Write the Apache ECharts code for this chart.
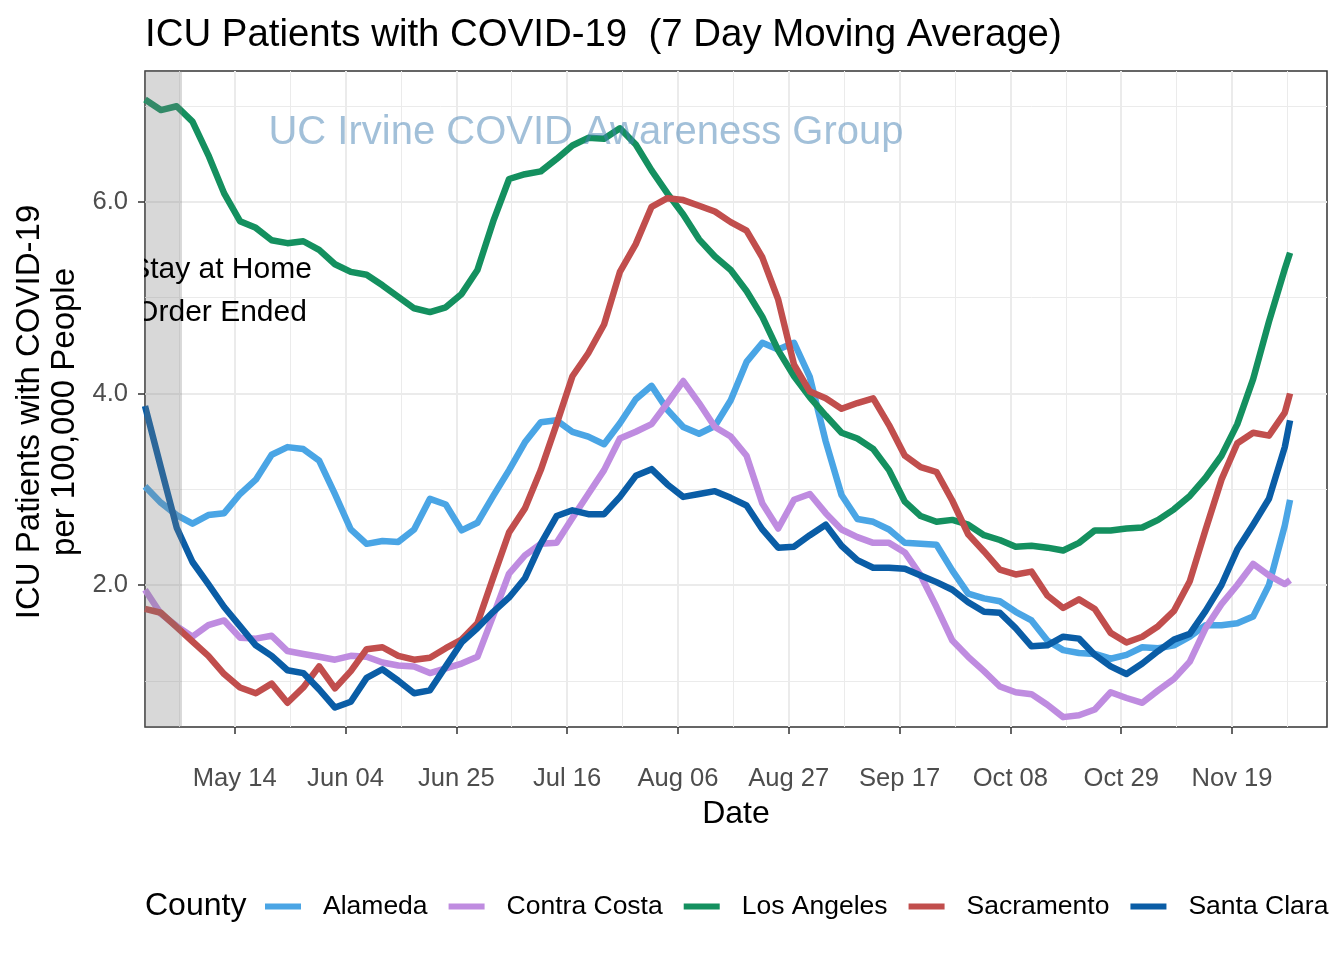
<!DOCTYPE html>
<html><head><meta charset="utf-8">
<script src="https://cdn.jsdelivr.net/npm/echarts@6/dist/echarts.min.js"></script>
<style>html,body{margin:0;padding:0;background:#fff}#chart{width:1344px;height:960px}</style>
</head><body><div id="chart"></div>
<script>
const FONT = '"Liberation Sans", Arial, Helvetica, sans-serif';

// x range of the panel and the date ticks
const axisStart = '2020-04-27';
const axisEnd = '2020-12-07';
const tickDates = ['2020-05-14','2020-06-04','2020-06-25','2020-07-16','2020-08-06','2020-08-27','2020-09-17','2020-10-08','2020-10-29','2020-11-19'];
const orderEndedRange = ['2020-04-27','2020-05-04'];
// observation dates: every 3 days from Apr 27, last one Nov 30
const firstObs = '2020-04-27';
const obsStepDays = 3;
const obsCount = 73;
const lastObs = '2020-11-30';

const countyNames = ['Alameda','Contra Costa','Los Angeles','Sacramento','Santa Clara'];
const countyColors = ['#4aa5e5','#bf8ce0','#14905f','#c14e4d','#0a5da6'];

const alameda = [3.03,2.86,2.73,2.64,2.73,2.75,2.95,3.10,3.36,3.44,
  3.42,3.30,2.95,2.58,2.43,2.46,2.45,2.58,2.90,2.84,
  2.57,2.65,2.93,3.20,3.49,3.70,3.72,3.60,3.55,3.47,
  3.69,3.94,4.08,3.83,3.65,3.58,3.66,3.93,4.33,4.53,
  4.46,4.53,4.17,3.50,2.94,2.69,2.66,2.58,2.44,2.43,
  2.42,2.15,1.91,1.86,1.83,1.72,1.63,1.42,1.32,1.29,
  1.28,1.23,1.27,1.35,1.34,1.37,1.46,1.58,1.58,1.60,
  1.67,2.00,2.62,2.89];
const contraCosta = [1.95,1.70,1.57,1.46,1.58,1.63,1.45,1.44,1.47,1.31,
  1.28,1.25,1.22,1.26,1.25,1.19,1.16,1.15,1.08,1.13,
  1.18,1.25,1.68,2.12,2.31,2.43,2.44,2.70,2.95,3.20,
  3.53,3.60,3.68,3.90,4.13,3.90,3.65,3.55,3.35,2.85,
  2.59,2.89,2.95,2.75,2.58,2.50,2.44,2.44,2.34,2.10,
  1.77,1.42,1.25,1.10,0.94,0.88,0.86,0.75,0.62,0.64,
  0.70,0.88,0.82,0.77,0.90,1.02,1.20,1.55,1.80,2.00,
  2.22,2.10,2.01,2.05];
const losAngeles = [7.07,6.96,7.00,6.84,6.49,6.09,5.80,5.73,5.60,5.57,
  5.59,5.50,5.35,5.27,5.24,5.13,5.01,4.89,4.85,4.90,
  5.04,5.29,5.80,6.24,6.29,6.32,6.45,6.59,6.67,6.66,
  6.77,6.60,6.33,6.09,5.87,5.61,5.43,5.29,5.07,4.80,
  4.45,4.18,3.96,3.77,3.59,3.53,3.42,3.20,2.87,2.72,
  2.66,2.68,2.63,2.52,2.47,2.40,2.41,2.39,2.36,2.44,
  2.57,2.57,2.59,2.60,2.68,2.79,2.93,3.12,3.35,3.68,
  4.15,4.75,5.30,5.47];
const sacramento = [1.75,1.71,1.56,1.41,1.26,1.07,0.93,0.87,0.97,0.77,
  0.93,1.15,0.92,1.10,1.33,1.35,1.26,1.22,1.24,1.34,
  1.43,1.60,2.08,2.55,2.80,3.20,3.68,4.18,4.42,4.72,
  5.27,5.56,5.95,6.04,6.02,5.96,5.90,5.79,5.70,5.42,
  4.98,4.30,4.02,3.95,3.84,3.90,3.95,3.67,3.35,3.23,
  3.18,2.88,2.53,2.35,2.16,2.11,2.14,1.89,1.76,1.85,
  1.75,1.50,1.40,1.46,1.57,1.73,2.04,2.58,3.10,3.48,
  3.59,3.56,3.80,4.00];
const santaClara = [3.87,3.23,2.60,2.24,2.01,1.77,1.57,1.37,1.26,1.11,
  1.08,0.91,0.72,0.78,1.03,1.12,1.00,0.87,0.90,1.15,
  1.40,1.55,1.72,1.87,2.07,2.43,2.72,2.78,2.74,2.74,
  2.92,3.14,3.21,3.05,2.92,2.95,2.98,2.91,2.83,2.58,
  2.39,2.40,2.52,2.63,2.41,2.26,2.18,2.18,2.17,2.10,
  2.03,1.95,1.82,1.72,1.71,1.55,1.36,1.37,1.46,1.44,
  1.27,1.15,1.07,1.18,1.31,1.43,1.49,1.73,2.00,2.37,
  2.63,2.90,3.44,3.72];
const countyValues = [alameda, contraCosta, losAngeles, sacramento, santaClara];

const yMin = 0.517, yMax = 7.368;
const yTickValues = [2, 4, 6];

// ---- helpers ----
const MONTHS = ['Jan','Feb','Mar','Apr','May','Jun','Jul','Aug','Sep','Oct','Nov','Dec'];
function parseISO(s){ const p = s.split('-').map(Number); return Date.UTC(p[0], p[1]-1, p[2]); }
function toISO(t){ return new Date(t).toISOString().slice(0,10); }
const DAY = 86400000;
const categories = [];
for (let t = parseISO(axisStart); t <= parseISO(axisEnd); t += DAY) categories.push(toISO(t));
const obsDates = [];
for (let i = 0; i < obsCount; i++) obsDates.push(toISO(parseISO(firstObs) + i * obsStepDays * DAY));
obsDates.push(lastObs);
const halfDays = [];
for (let i = 0; i < (categories.length - 1) * 2 + 1; i++) halfDays.push(String(i));
const tickSet = new Set(tickDates);
const firstTickIdx = categories.indexOf(tickDates[0]);
const tickSpacing = categories.indexOf(tickDates[1]) - firstTickIdx;
function fmtDate(s){ const d = new Date(parseISO(s)); return MONTHS[d.getUTCMonth()] + ' ' + String(d.getUTCDate()).padStart(2,'0'); }
function isMinor(i){ // half-day index lying midway between date ticks
  const h = i - (firstTickIdx * 2 - tickSpacing);
  return h % (tickSpacing * 2) === 0;
}

const series = countyNames.map((name, k) => ({
  name, type: 'line', xAxisIndex: 0, yAxisIndex: 0,
  data: obsDates.map((d, i) => [d, countyValues[k][i]]),
  showSymbol: false, symbol: 'none', smooth: false, z: 2,
  color: countyColors[k],
  lineStyle: { width: 6.5, color: countyColors[k], join: 'round', cap: 'butt' },
  emphasis: { disabled: true }
}));
series.push({
  name: 'order', type: 'line', data: [], xAxisIndex: 0, yAxisIndex: 0, z: 10,
  markArea: { silent: true, z: 10, itemStyle: { color: 'rgba(127,127,127,0.3)' },
    data: [[{ xAxis: orderEndedRange[0] }, { xAxis: orderEndedRange[1] }]] }
});

const chart = echarts.init(document.getElementById('chart'), null, { renderer: 'canvas' });
chart.setOption({
  animation: false,
  backgroundColor: '#ffffff',
  textStyle: { fontFamily: FONT },
  title: { text: 'ICU Patients with COVID-19  (7 Day Moving Average)', left: 140, top: 11,
    textStyle: { fontFamily: FONT, fontSize: 38.4, fontWeight: 'normal', color: '#000' } },
  grid: { left: 145, right: 17, top: 71, bottom: 233, show: true, borderColor: '#333333', borderWidth: 1.5, backgroundColor: 'transparent' },
  legend: {
    data: countyNames, left: 260, top: 888, icon: 'rect', itemWidth: 36, itemHeight: 6, itemGap: 21,
    selectedMode: false,
    textStyle: { fontFamily: FONT, fontSize: 26.5, color: '#000', padding: [0, 0, 0, 17] }
  },
  xAxis: [{
    type: 'category', data: categories, boundaryGap: false, position: 'bottom',
    name: 'Date', nameLocation: 'middle', nameGap: 71,
    nameTextStyle: { fontFamily: FONT, fontSize: 32, color: '#000' },
    axisLine: { show: false },
    axisTick: { show: true, interval: (i, v) => tickSet.has(v), length: 7, lineStyle: { color: '#333', width: 1.5 } },
    axisLabel: { show: true, interval: (i, v) => tickSet.has(v), formatter: v => fmtDate(v), margin: 39,
      fontFamily: FONT, fontSize: 25.6, color: '#4d4d4d' },
    splitLine: { show: true, interval: (i, v) => tickSet.has(v), lineStyle: { color: '#ebebeb', width: 2 } }
  }, {
    type: 'category', data: halfDays, boundaryGap: false, position: 'bottom', gridIndex: 0,
    axisLine: { show: false }, axisTick: { show: false }, axisLabel: { show: false },
    splitLine: { show: true, interval: (i) => isMinor(i), lineStyle: { color: '#ebebeb', width: 1 } }
  }],
  yAxis: {
    type: 'value', min: yMin, max: yMax, splitNumber: 3,
    axisLine: { show: false },
    axisTick: { show: true, customValues: yTickValues, length: 7, lineStyle: { color: '#333', width: 1.5 } },
    axisLabel: { customValues: yTickValues, formatter: v => Number(v).toFixed(1), margin: 17,
      fontFamily: FONT, fontSize: 25.6, color: '#4d4d4d' },
    splitLine: { show: true, lineStyle: { color: '#ebebeb', width: 2 } },
    minorTick: { show: false, splitNumber: 2 },
    minorSplitLine: { show: true, lineStyle: { color: '#ebebeb', width: 1 } }
  },
  series,
  graphic: [
    { type: 'text', x: 221, y: 270, z: 50, style: { text: 'Stay at Home', font: '30px ' + FONT, fill: '#000', align: 'center', verticalAlign: 'middle' } },
    { type: 'text', x: 221, y: 313, z: 50, style: { text: 'Order Ended', font: '30px ' + FONT, fill: '#000', align: 'center', verticalAlign: 'middle' } },
    { type: 'rect', shape: { x: 100, y: 240, width: 44, height: 100 }, z: 60, style: { fill: '#ffffff' } },
    { type: 'text', x: 586, y: 133, z: 50, style: { text: 'UC Irvine COVID Awareness Group', font: '40px ' + FONT, fill: 'rgba(70,130,180,0.5)', align: 'center', verticalAlign: 'middle' } },
    { type: 'text', x: 145, y: 906, z: 50, style: { text: 'County', font: '32px ' + FONT, fill: '#000', align: 'left', verticalAlign: 'middle' } },
    { type: 'text', x: 47, y: 412, rotation: Math.PI / 2, z: 50, style: { text: 'ICU Patients with COVID-19\nper 100,000 People', font: '33px ' + FONT, fill: '#000', align: 'center', verticalAlign: 'middle', lineHeight: 35 } }
  ]
});
</script></body></html>
